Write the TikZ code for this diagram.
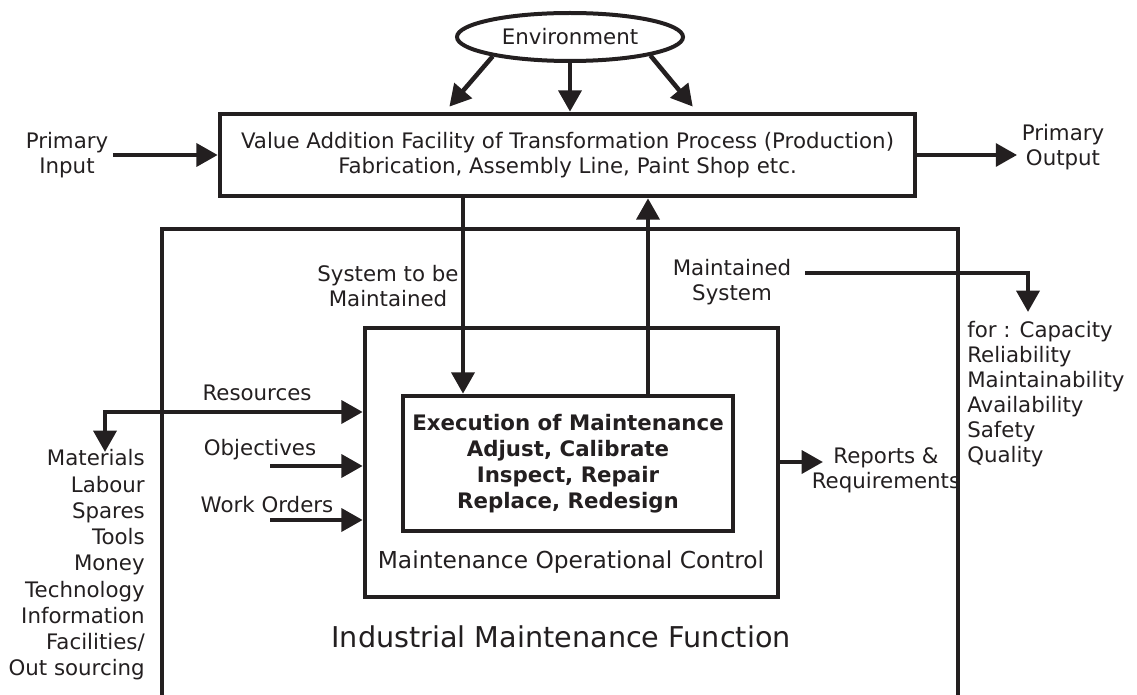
\documentclass[tikz,border=0pt]{standalone}
\usepackage{fontspec}
\setmainfont{DejaVu Sans}
\usetikzlibrary{arrows.meta,shapes.geometric,calc}
\definecolor{ink}{HTML}{231F20}
\begin{document}
\begin{tikzpicture}[x=0.75pt,y=-0.75pt,
  every node/.style={font=\fontsize{16}{18.75}\selectfont, text=ink},
  ln/.style={line width=3.4pt, draw=ink},
  arr/.style={ln, -{Triangle[length=16pt,width=17pt]}},
  dblarr/.style={ln, {Triangle[length=16pt,width=17pt]}-{Triangle[length=16pt,width=17pt]}},
  box/.style={ln, rectangle, inner sep=0pt, align=center},
]
\useasboundingbox (0,0) rectangle (1137,695);

% main boxes
\node[box, minimum width=521.25pt, minimum height=61.5pt] (prod) at (567.5,155)
  {Value Addition Facility of Transformation Process (Production)\\Fabrication, Assembly Line, Paint Shop etc.};
\node[ln, line width=3pt, ellipse, minimum width=169.5pt, minimum height=36pt, inner sep=0pt] (env) at (570,37) {Environment};
\node[box, minimum width=309.75pt, minimum height=201.75pt] (inner) at (571.5,462.5) {};
\node[box, minimum width=247.5pt, minimum height=101.25pt, font=\bfseries\fontsize{16}{19.5}\selectfont] (exec) at (568,463.5)
  {Execution of Maintenance\\Adjust, Calibrate\\Inspect, Repair\\Replace, Redesign};
\coordinate (indsw) at (162,700);
\coordinate (indnw) at (162,229);
\coordinate (indne) at (958,229);
\coordinate (indse) at (958,700);
\draw[ln, line join=miter] (indsw) -- (indnw) -- (indne) -- (indse);

% labels
\node[align=center] (pin) at (67,155) {Primary\\Input};
\node[align=center] (pout) at (1063,147) {Primary\\Output};
\node[align=center] (sys) at (388,286) {System to be\\Maintained};
\node[align=center] (ms) at (732,282) {Maintained\\System};
\node[anchor=west, align=left, inner sep=0pt] (forl) at (967,394.5)
  {for : Capacity\\Reliability\\Maintainability\\Availability\\Safety\\Quality};
\node[anchor=east, align=right, inner sep=0pt, font=\fontsize{16}{19.7}\selectfont] (mat) at (145,565)
  {Materials\\Labour\\Spares\\Tools\\Money\\Technology\\Information\\Facilities/\\Out sourcing};
\node (res) at (257,393) {Resources};
\node (obj) at (260,450) {Objectives};
\node (wo) at (267,505) {Work Orders};
\node[align=center] (rep) at (886,470) {Reports \&\\Requirements};
\node[font=\fontsize{17.5}{20}\selectfont] (moc) at (571,562) {Maintenance Operational Control};
\node[font=\fontsize{21.5}{24}\selectfont] (imf) at (561,637) {Industrial Maintenance Function};

% environment arrows
\coordinate (eL) at (445,0);
\coordinate (eR) at (697,0);
\draw[arr, shorten >=5pt] (env.194) -- (prod.north -| eL);
\draw[arr] (env.south) -- (prod.north -| env.south);
\draw[arr, shorten >=5pt] (env.-13) -- (prod.north -| eR);

% primary input/output
\draw[arr] (pin.east) -- (prod.west |- pin.east);
\draw[arr] (prod.east) -- (pout.west |- prod.east);

% system flow
\coordinate (dx) at (463,0);
\coordinate (ux) at (648,0);
\draw[arr] (prod.south -| dx) -- (exec.north -| dx);
\draw[arr] (exec.north -| ux) -- (prod.south -| ux);

% maintained system out
\coordinate (msstart) at (805,273);
\coordinate (mtip) at (1028,312);
\draw[arr, line join=miter] (msstart) -| (mtip);

% resources
\coordinate (rstart) at (105,452);
\coordinate (ry) at (0,412);
\draw[dblarr, line join=miter] (rstart) |- (inner.west |- ry);
\coordinate (os) at (270,466);
\draw[arr] (os) -- (inner.west |- os);
\coordinate (ws) at (270,520);
\draw[arr] (ws) -- (inner.west |- ws);

% reports
\coordinate (rptip) at (823,462);
\draw[arr] (inner.east |- rptip) -- (rptip);
\end{tikzpicture}
\end{document}
